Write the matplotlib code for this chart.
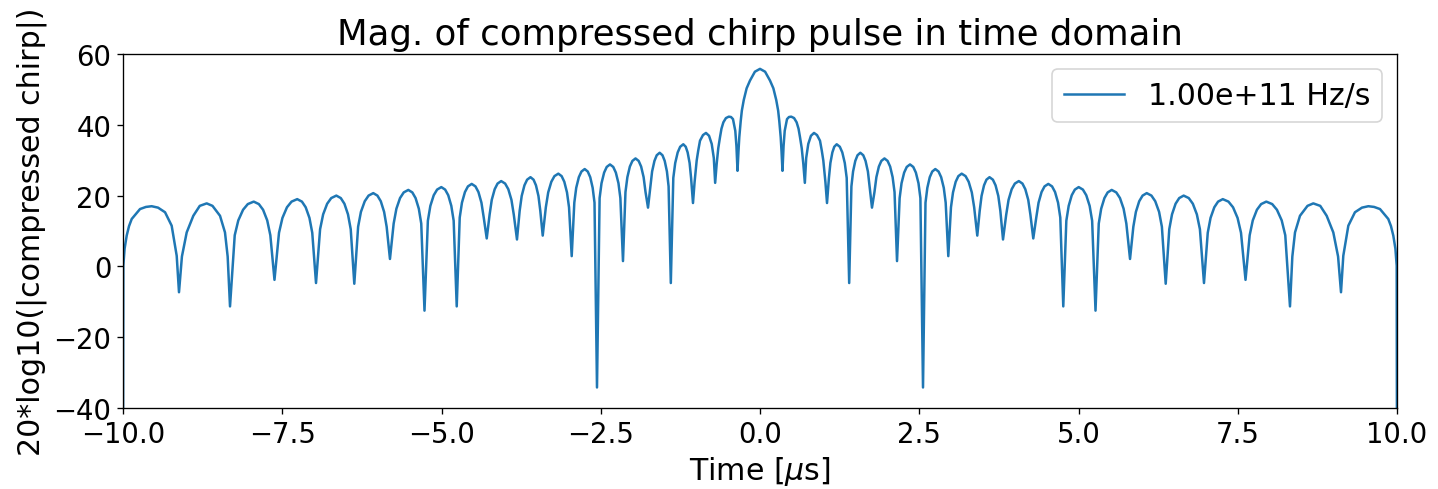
import numpy as np
import matplotlib.pyplot as plt

# Values: time in us, magnitude in dB.
# One line per lobe. Left half runs from -10 us up to the main lobe.
t_left = [-10.000, -9.995, -9.975, -9.942, -9.905, -9.863, -9.733, -9.640, -9.550, -9.450, -9.340, -9.236, -9.157, -9.121,
          -9.075, -9.000, -8.896, -8.795, -8.686, -8.595, -8.477, -8.399, -8.357, -8.320,
          -8.246, -8.190, -8.115, -8.041, -7.948, -7.867, -7.801, -7.736, -7.687, -7.622,
          -7.551, -7.497, -7.426, -7.354, -7.265, -7.191, -7.132, -7.073, -7.029, -6.970,
          -6.906, -6.858, -6.795, -6.731, -6.651, -6.581, -6.524, -6.468, -6.425, -6.369,
          -6.309, -6.265, -6.205, -6.145, -6.071, -6.006, -5.953, -5.901, -5.861, -5.809,
          -5.751, -5.708, -5.651, -5.593, -5.521, -5.458, -5.407, -5.356, -5.318, -5.267,
          -5.214, -5.175, -5.122, -5.069, -5.003, -4.943, -4.894, -4.846, -4.809, -4.761,
          -4.714, -4.679, -4.632, -4.585, -4.526, -4.467, -4.420, -4.373, -4.337, -4.290,
          -4.245, -4.211, -4.165, -4.120, -4.063, -4.001, -3.951, -3.902, -3.865, -3.815,
          -3.773, -3.741, -3.698, -3.656, -3.603, -3.555, -3.517, -3.478, -3.449, -3.411,
          -3.362, -3.325, -3.276, -3.227, -3.166, -3.114, -3.072, -3.030, -2.998, -2.956,
          -2.915, -2.885, -2.844, -2.803, -2.752, -2.704, -2.665, -2.627, -2.598, -2.559,
          -2.518, -2.488, -2.447, -2.406, -2.355, -2.304, -2.263, -2.222, -2.192, -2.151,
          -2.112, -2.082, -2.043, -2.003, -1.954, -1.905, -1.866, -1.827, -1.797, -1.758,
          -1.721, -1.694, -1.657, -1.621, -1.575, -1.531, -1.496, -1.461, -1.435, -1.400,
          -1.361, -1.331, -1.292, -1.253, -1.204, -1.166, -1.136, -1.105, -1.082, -1.052,
          -1.027, -0.994, -0.970, -0.942, -0.895, -0.848, -0.800, -0.758, -0.725, -0.704,
          -0.680, -0.655, -0.628, -0.605, -0.575, -0.535, -0.490, -0.455, -0.424, -0.388, -0.370, -0.353,
          -0.338, -0.325, -0.303, -0.285, -0.255, -0.210, -0.157, -0.080]
db_left = [-60.0, 0.2, 5.0, 8.7, 11.4, 13.4, 16.2, 16.8, 17.0, 16.6, 15.3, 11.5, 3.0, -7.3,
           2.8, 9.6, 14.3, 17.1, 17.8, 17.1, 14.3, 9.6, 2.8, -11.3,
           8.8, 13.0, 16.0, 17.6, 18.3, 17.6, 16.0, 13.0, 8.8, -3.8,
           9.5, 13.7, 16.7, 18.3, 19.0, 18.3, 16.7, 13.7, 9.5, -4.7,
           10.5, 14.7, 17.7, 19.3, 20.0, 19.3, 17.7, 14.7, 10.5, -4.9,
           11.2, 15.4, 18.4, 20.0, 20.7, 20.0, 18.4, 15.4, 11.2, 2.1,
           12.1, 16.3, 19.3, 20.9, 21.6, 20.9, 19.3, 16.3, 12.1, -12.5,
           12.9, 17.1, 20.1, 21.7, 22.4, 21.7, 20.1, 17.1, 12.9, -11.3,
           13.8, 18.0, 21.0, 22.6, 23.3, 22.6, 21.0, 18.0, 13.8, 7.9,
           14.6, 18.8, 21.8, 23.4, 24.1, 23.4, 21.8, 18.8, 14.6, 7.6,
           15.7, 19.9, 22.9, 24.5, 25.2, 24.5, 22.9, 19.9, 15.7, 8.7,
           16.7, 20.9, 23.9, 25.5, 26.2, 25.5, 23.9, 20.9, 16.7, 2.9,
           18.0, 22.2, 25.2, 26.8, 27.5, 26.8, 25.2, 22.2, 18.0, -34.2,
           19.3, 23.5, 26.5, 28.1, 28.8, 28.1, 26.5, 23.5, 19.3, 1.5,
           21.0, 25.2, 28.2, 29.8, 30.5, 29.8, 28.2, 25.2, 21.0, 16.6,
           22.6, 26.8, 29.8, 31.4, 32.1, 31.4, 29.8, 26.8, 22.6, -4.7,
           25.0, 29.2, 32.2, 33.8, 34.5, 33.8, 32.2, 29.2, 25.0, 17.9,
           23.8, 29.9, 32.7, 35.5, 37.1, 37.7, 36.9, 34.6, 30.6, 23.6,
           29.0, 33.4, 36.5, 38.9, 40.7, 41.9, 42.3, 42.2, 41.6, 38.3, 34.0, 27.0,
           32.5, 36.5, 41.0, 44.0, 47.0, 50.3, 52.5, 55.0]

# Right half runs from the main lobe peak out to +10 us.
t_right = [0.000, 0.080, 0.157, 0.210, 0.255, 0.285, 0.303, 0.325, 0.338, 0.353,
           0.370, 0.388, 0.424, 0.455, 0.490, 0.535, 0.575, 0.605, 0.628, 0.655, 0.680, 0.704,
           0.725, 0.758, 0.800, 0.848, 0.895, 0.942, 0.970, 0.994, 1.027, 1.052,
           1.082, 1.105, 1.136, 1.166, 1.204, 1.253, 1.292, 1.331, 1.361, 1.400,
           1.435, 1.461, 1.496, 1.531, 1.575, 1.621, 1.657, 1.694, 1.721, 1.758,
           1.797, 1.827, 1.866, 1.905, 1.954, 2.003, 2.043, 2.082, 2.112, 2.151,
           2.192, 2.222, 2.263, 2.304, 2.355, 2.406, 2.447, 2.488, 2.518, 2.559,
           2.598, 2.627, 2.665, 2.704, 2.752, 2.803, 2.844, 2.885, 2.915, 2.956,
           2.998, 3.030, 3.072, 3.114, 3.166, 3.227, 3.276, 3.325, 3.362, 3.411,
           3.449, 3.478, 3.517, 3.555, 3.603, 3.656, 3.698, 3.741, 3.773, 3.815,
           3.865, 3.902, 3.951, 4.001, 4.063, 4.120, 4.165, 4.211, 4.245, 4.290,
           4.337, 4.373, 4.420, 4.467, 4.526, 4.585, 4.632, 4.679, 4.714, 4.761,
           4.809, 4.846, 4.894, 4.943, 5.003, 5.069, 5.122, 5.175, 5.214, 5.267,
           5.318, 5.356, 5.407, 5.458, 5.521, 5.593, 5.651, 5.708, 5.751, 5.809,
           5.861, 5.901, 5.953, 6.006, 6.071, 6.145, 6.205, 6.265, 6.309, 6.369,
           6.425, 6.468, 6.524, 6.581, 6.651, 6.731, 6.795, 6.858, 6.906, 6.970,
           7.029, 7.073, 7.132, 7.191, 7.265, 7.354, 7.426, 7.497, 7.551, 7.622,
           7.687, 7.736, 7.801, 7.867, 7.948, 8.041, 8.115, 8.190, 8.246, 8.320,
           8.357, 8.399, 8.477, 8.595, 8.686, 8.795, 8.896, 9.000, 9.075, 9.121,
           9.157, 9.236, 9.340, 9.450, 9.550, 9.640, 9.733, 9.863, 9.905, 9.942, 9.975, 9.995, 10.000]
db_right = [55.8, 55.0, 52.5, 50.3, 47.0, 44.0, 41.0, 36.5, 32.5, 27.0,
            34.0, 38.3, 41.6, 42.2, 42.3, 41.9, 40.7, 38.9, 36.5, 33.4, 29.0, 23.6,
            30.6, 34.6, 36.9, 37.7, 37.1, 35.5, 32.7, 29.9, 23.8, 17.9,
            25.0, 29.2, 32.2, 33.8, 34.5, 33.8, 32.2, 29.2, 25.0, -4.7,
            22.6, 26.8, 29.8, 31.4, 32.1, 31.4, 29.8, 26.8, 22.6, 16.6,
            21.0, 25.2, 28.2, 29.8, 30.5, 29.8, 28.2, 25.2, 21.0, 1.5,
            19.3, 23.5, 26.5, 28.1, 28.8, 28.1, 26.5, 23.5, 19.3, -34.2,
            18.0, 22.2, 25.2, 26.8, 27.5, 26.8, 25.2, 22.2, 18.0, 2.9,
            16.7, 20.9, 23.9, 25.5, 26.2, 25.5, 23.9, 20.9, 16.7, 8.7,
            15.7, 19.9, 22.9, 24.5, 25.2, 24.5, 22.9, 19.9, 15.7, 7.6,
            14.6, 18.8, 21.8, 23.4, 24.1, 23.4, 21.8, 18.8, 14.6, 7.9,
            13.8, 18.0, 21.0, 22.6, 23.3, 22.6, 21.0, 18.0, 13.8, -11.3,
            12.9, 17.1, 20.1, 21.7, 22.4, 21.7, 20.1, 17.1, 12.9, -12.5,
            12.1, 16.3, 19.3, 20.9, 21.6, 20.9, 19.3, 16.3, 12.1, 2.1,
            11.2, 15.4, 18.4, 20.0, 20.7, 20.0, 18.4, 15.4, 11.2, -4.9,
            10.5, 14.7, 17.7, 19.3, 20.0, 19.3, 17.7, 14.7, 10.5, -4.7,
            9.5, 13.7, 16.7, 18.3, 19.0, 18.3, 16.7, 13.7, 9.5, -3.8,
            8.8, 13.0, 16.0, 17.6, 18.3, 17.6, 16.0, 13.0, 8.8, -11.3,
            2.8, 9.6, 14.3, 17.1, 17.8, 17.1, 14.3, 9.6, 2.8, -7.3,
            3.0, 11.5, 15.3, 16.6, 17.0, 16.8, 16.2, 13.4, 11.4, 8.7, 5.0, 0.2, -60.0]

chirp_rate = 1e11  # Hz/s, shown in the legend

t = np.array(t_left + t_right)
mag_db = np.array(db_left + db_right)

plt.rcParams['font.size'] = 18
fig = plt.figure(figsize=(1438 / 120, 490 / 120), dpi=120)
ax = fig.add_axes([123 / 1438, 1 - 409 / 490, (1397 - 123) / 1438, (409 - 55) / 490])

ax.plot(t, mag_db, color='#1f77b4', linewidth=1.5, label='%.2e Hz/s' % chirp_rate)
ax.set_xlim(-10, 10)
ax.set_ylim(-40, 60)
ax.tick_params(labelsize=16.5)
ax.set_title('Mag. of compressed chirp pulse in time domain', fontsize=21.3)
ax.set_xlabel(r'Time [$\mu$s]')
ax.set_ylabel('20*log10(|compressed chirp|)')
ax.legend(loc='upper right')

fig.savefig('out.png', dpi=120)
